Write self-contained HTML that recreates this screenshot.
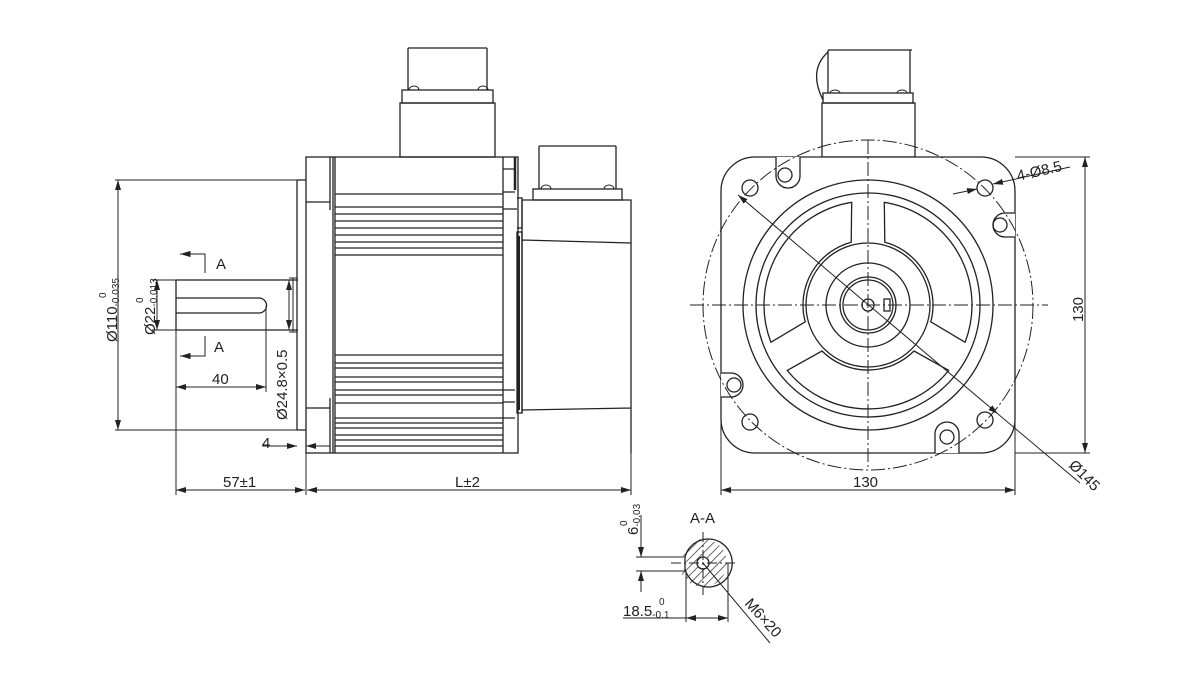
<!DOCTYPE html>
<html><head><meta charset="utf-8"><style>
html,body{margin:0;padding:0;background:#fff;width:1200px;height:681px;overflow:hidden}
svg{display:block}
text{font-family:"Liberation Sans",Arial,sans-serif;fill:#222}
</style></head><body>
<svg width="1200" height="681" viewBox="0 0 1200 681" xmlns="http://www.w3.org/2000/svg">
<defs>
<marker id="a" viewBox="0 0 10 6" refX="10" refY="3" markerWidth="10" markerHeight="6" orient="auto-start-reverse" markerUnits="userSpaceOnUse"><path d="M0 0 L10 3 L0 6 Z" fill="#222"/></marker>
<pattern id="h" width="6" height="6" patternUnits="userSpaceOnUse" patternTransform="rotate(45)"><line x1="0" y1="0" x2="0" y2="6" stroke="#222" stroke-width="1.4"/></pattern>
<clipPath id="cc"><circle cx="703" cy="563" r="24"/></clipPath>
</defs>
<g fill="none" stroke="#222" stroke-width="1.3">
<path d="M408 48 H487 M408 48 V90 M487 48 V90"/>
<rect x="402" y="90" width="91" height="13"/>
<rect x="400" y="103" width="95" height="54"/>
<path d="M409 90 a5 4 0 0 1 10 0 M478 90 a5 4 0 0 1 10 0" stroke-width="1"/>
<rect x="306" y="157" width="212" height="296"/>
<path d="M333 157 V453 M306 202 H330 M306 408 H330 M330 157 V210 M330 398 V453"/>
<path d="M335 157 V453 M503 157 V453"/>
<path d="M335 194 H503 M335 207 H503 M335 214 H503 M335 221 H503 M335 228 H503 M335 235 H503 M335 242 H503 M335 248 H503 M335 255 H503"/>
<path d="M335 355 H503 M335 363 H503 M335 368 H503 M335 377 H503 M335 382 H503 M335 390 H503 M335 395 H503 M335 403 H503 M335 418 H503 M335 423 H503 M335 428 H503 M335 435 H503 M335 440 H503 M335 446 H503"/>
<path d="M503 169 H515 M503 192 H515 M503 209 H517 M503 390 H515 M503 402 H515 M503 418 H515"/>
<path d="M515 157 V190" stroke-width="2.5"/>
<path d="M517 232 H522 V413 H517 Z M517 198 H522 V228 H517"/>
<path d="M519 236 V410" stroke-width="2"/>
<path d="M522 200 H631 V453 M522 240 L631 243 M522 410 L631 408 M522 200 V413"/>
<path d="M539 146 H616 M539 146 V189 M616 146 V189"/>
<rect x="533" y="189" width="89" height="11"/>
<path d="M541 189 a5 4 0 0 1 10 0 M604 189 a5 4 0 0 1 10 0" stroke-width="1"/>
<path d="M297 180 H306 M297 180 V430 H306"/>
<path d="M298 280 H176 V330 H298"/>
<path d="M176 298 H259 A7.5 7.5 0 0 1 259 313 H176"/>
<path d="M293 278 V332 M289 278 H297 M289 332 H297" stroke-width="1"/>
<g stroke-width="1">
<path d="M115 180 H298 M115 430 H298"/>
<line x1="118" y1="180" x2="118" y2="430" marker-start="url(#a)" marker-end="url(#a)"/>
<path d="M152 280 H176 M152 330 H176"/>
<line x1="157" y1="280" x2="157" y2="330" marker-start="url(#a)" marker-end="url(#a)"/>
<line x1="289" y1="280" x2="289" y2="330" marker-start="url(#a)" marker-end="url(#a)"/>
<path d="M180 254 H205 V273 M180 356 H205 V336"/>
<path d="M182 254 l8 -2.5 v5 z M182 356 l8 -2.5 v5 z" fill="#222"/>
<path d="M266 306 V392"/>
<line x1="176" y1="387" x2="266" y2="387" marker-start="url(#a)" marker-end="url(#a)"/>
<line x1="262" y1="446" x2="297" y2="446" marker-end="url(#a)"/>
<line x1="330" y1="446" x2="306" y2="446" marker-end="url(#a)"/>
<path d="M176 330 V495 M306 453 V495 M631 453 V495"/>
<line x1="176" y1="490" x2="305" y2="490" marker-start="url(#a)" marker-end="url(#a)"/>
<line x1="307" y1="490" x2="631" y2="490" marker-start="url(#a)" marker-end="url(#a)"/>
</g>
<path d="M828 50 H912 M828 50 V93 M910 50 V93 M828 52 Q808 70 823 100"/>
<rect x="823" y="93" width="90" height="10"/>
<rect x="822" y="103" width="93" height="54"/>
<path d="M830 93 a5 3 0 0 1 10 0 M897 93 a5 3 0 0 1 10 0" stroke-width="1"/>
<path d="M761 157 H981 A34 34 0 0 1 1015 191 V419 A34 34 0 0 1 981 453 H755 A34 34 0 0 1 721 419 V191 A34 34 0 0 1 755 157 Z" fill="#fff"/>
<path d="M776 157 V176 A10 10 0 0 0 800 176 V157" fill="#fff"/>
<circle cx="785" cy="175" r="7"/>
<path d="M1015 213 H1005 A12 12 0 0 0 1005 237 H1015" fill="#fff"/>
<circle cx="1000" cy="225" r="7"/>
<path d="M935 453 V434 A12 12 0 0 1 959 434 V453" fill="#fff"/>
<circle cx="947" cy="437" r="7"/>
<path d="M721 373 H731 A12 12 0 0 1 731 397 H721" fill="#fff"/>
<circle cx="734" cy="385" r="7"/>
<circle cx="750" cy="188" r="8"/><circle cx="985" cy="188" r="8"/>
<circle cx="750" cy="422" r="8"/><circle cx="985" cy="420" r="8"/>
<circle cx="868" cy="305" r="125"/>
<circle cx="868" cy="305" r="112"/>
<circle cx="868" cy="305" r="62"/>
<circle cx="868" cy="305" r="42"/>
<circle cx="868" cy="305" r="28"/>
<circle cx="868" cy="305" r="25"/>
<circle cx="868" cy="305" r="6"/>
<rect x="884" y="299" width="6" height="12"/>
<path d="M851.2 242.2 A65 65 0 0 0 805.2 321.8 L770.9 342.3 A104 104 0 0 1 851.7 202.3 Z" stroke-linejoin="round"/>
<path d="M930.8 321.8 A65 65 0 0 0 884.8 242.2 L884.3 202.3 A104 104 0 0 1 965.1 342.3 Z" stroke-linejoin="round"/>
<path d="M822 351 A65 65 0 0 0 914 351 L948.8 370.4 A104 104 0 0 1 787.2 370.4 Z" stroke-linejoin="round"/>
<g stroke-width="1">
<circle cx="868" cy="305" r="165" stroke-dasharray="14 3 2 3"/>
<line x1="690" y1="305" x2="1048" y2="305" stroke-dasharray="14 3 2 3"/>
<line x1="868" y1="140" x2="868" y2="470" stroke-dasharray="14 3 2 3"/>
<line x1="738" y1="195" x2="998" y2="414" marker-start="url(#a)" marker-end="url(#a)"/>
<line x1="998" y1="414" x2="1080" y2="483"/>
<line x1="953" y1="194" x2="977" y2="189" marker-end="url(#a)"/>
<line x1="1070" y1="167" x2="993" y2="184" marker-end="url(#a)"/>
<path d="M1015 157 H1090 M1015 453 H1090"/>
<line x1="1085" y1="157" x2="1085" y2="453" marker-start="url(#a)" marker-end="url(#a)"/>
<path d="M721 419 V495 M1015 419 V495"/>
<line x1="721" y1="490" x2="1015" y2="490" marker-start="url(#a)" marker-end="url(#a)"/>
</g>
<rect x="670" y="530" width="70" height="70" fill="url(#h)" stroke="none" clip-path="url(#cc)"/>
<rect x="660" y="556" width="26" height="15" fill="#fff" stroke="none"/>
<path d="M685 557 A24 24 0 1 1 685 569" fill="none"/>
<path d="M685 557 V571"/>
<circle cx="703" cy="563" r="6" fill="#fff"/>
<g stroke-width="1">
<path d="M636 557 H685 M636 571 H685"/>
<line x1="671" y1="563" x2="735" y2="563" stroke-dasharray="10 3 2 3"/>
<line x1="703" y1="532" x2="703" y2="595" stroke-dasharray="10 3 2 3"/>
<line x1="641" y1="515" x2="641" y2="557" marker-end="url(#a)"/>
<line x1="641" y1="592" x2="641" y2="571" marker-end="url(#a)"/>
<path d="M686 573 V622 M728 563 V622 M623 618 H686"/>
<line x1="686" y1="618" x2="728" y2="618" marker-start="url(#a)" marker-end="url(#a)"/>
<line x1="703" y1="563" x2="770" y2="643"/>
</g>
</g>
<g font-size="15">
<text x="216" y="269">A</text>
<text x="214" y="352">A</text>
<text x="212" y="384">40</text>
<text x="262" y="448">4</text>
<text x="223" y="487">57±1</text>
<text x="455" y="487">L±2</text>
<text transform="translate(117,342) rotate(-90)">Ø110<tspan font-size="10" dy="2">-0.035</tspan></text>
<text transform="translate(106,298) rotate(-90)" font-size="10">0</text>
<text transform="translate(155,335) rotate(-90)">Ø22<tspan font-size="10" dy="2">-0.013</tspan></text>
<text transform="translate(143,303) rotate(-90)" font-size="10">0</text>
<text transform="translate(287,420) rotate(-90)">Ø24.8×0.5</text>
<text transform="translate(1018,181) rotate(-13)">4-Ø8.5</text>
<text transform="translate(1083,322) rotate(-90)">130</text>
<text x="853" y="487">130</text>
<text transform="translate(1068,466) rotate(45)">Ø145</text>
<text x="690" y="523">A-A</text>
<text transform="translate(638,535) rotate(-90)">6<tspan font-size="10" dy="2">-0.03</tspan></text>
<text transform="translate(627,526) rotate(-90)" font-size="10">0</text>
<text x="623" y="616">18.5<tspan font-size="10" dy="2">-0.1</tspan></text>
<text x="659" y="605" font-size="10">0</text>
<text transform="translate(744,604) rotate(48)">M6×20</text>
</g>
</svg>
</body></html>
